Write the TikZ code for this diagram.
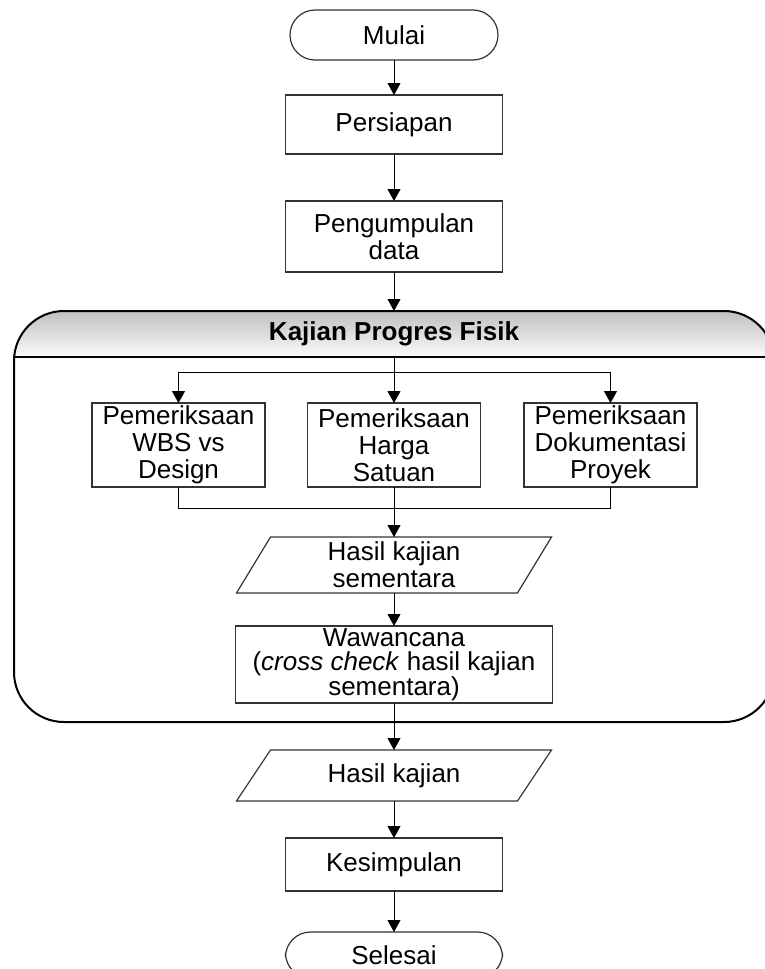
\documentclass[tikz,border=0pt]{standalone}
\usepackage{fontspec}
\setmainfont{Liberation Sans}
\usetikzlibrary{arrows.meta}

\tikzset{
  proc/.style={draw=black!80, line width=1.2pt, minimum width=173pt, minimum height=84pt, inner sep=0pt, outer sep=0pt, align=center},
  term/.style={draw=black!80, line width=1.2pt, rounded corners=25pt, minimum width=208pt, minimum height=50pt, inner sep=0pt, outer sep=0pt},
  dataio/.style={inner sep=0pt, outer sep=0pt, minimum width=281pt, align=center,
    append after command={\pgfextra{\draw [draw=black!80, line width=1.2pt] ([xshift=17pt]\tikzlastnode.north west) -- ([xshift=17pt]\tikzlastnode.north east) -- ([xshift=-17pt]\tikzlastnode.south east) -- ([xshift=-17pt]\tikzlastnode.south west) -- cycle;}}},
  arr/.style={-{Triangle[length=12pt,width=13pt]}, line width=1pt}
}

\begin{document}
\begin{tikzpicture}[x=1pt, y=-1pt, font=\fontsize{26}{27}\selectfont]
\useasboundingbox (0,0) rectangle (765,969);
\clip (0,0) rectangle (765,969);

% shaded header of the container
\begin{scope}
\clip [rounded corners=50pt] (14,311) rectangle (774,722);
\foreach \i in {0,...,45} {
  \pgfmathsetmacro\g{25-23*\i/45}
  \fill [black!\g] (14,{311+\i}) rectangle (774,{312.5+\i});
}
\end{scope}
\node [draw, line width=2pt, rounded corners=50pt, minimum width=760pt, minimum height=411pt, inner sep=0pt, outer sep=0pt] (kajian) at (394,516.5) {};
\node [minimum width=760pt, minimum height=46pt, inner sep=0pt, outer sep=0pt] (judul) at (394,334) {\textbf{Kajian Progres Fisik}};
\draw [line width=2pt] (judul.south west) -- (judul.south east);

\node [term] (mulai) at (394,35) {Mulai};
\node [proc, minimum width=217pt, minimum height=59pt] (persiapan) at (394,124.5) {Persiapan};
\node [proc, minimum width=217pt, minimum height=71pt] (pengumpulan) at (394,236.5) {Pengumpulan\\data};

\node [proc] (wbs) at (178.5,445) {Pemeriksaan\\WBS vs\\Design};
\node [proc] (harga) at (394,445) {Pemeriksaan\\Harga\\Satuan};
\node [proc] (doku) at (610.5,445) {Pemeriksaan\\Dokumentasi\\Proyek};

\node [dataio, minimum height=56pt] (hks) at (394,565) {Hasil kajian\\sementara};
\node [proc, minimum width=317pt, minimum height=77pt, font=\fontsize{26}{24.5}\selectfont] (wawancana) at (394,664.5) {Wawancana\\(\textit{cross check} hasil kajian\\sementara)};

\node [dataio, minimum height=51pt] (hk) at (394,775.5) {Hasil kajian};
\node [proc, minimum width=217pt, minimum height=53pt] (kesimpulan) at (394,864.5) {Kesimpulan};
\node [term, minimum width=217pt, minimum height=46pt] (selesai) at (394,955) {Selesai};

% connectors
\draw [arr] (mulai) -- (persiapan);
\draw [arr] (persiapan) -- (pengumpulan);
\draw [arr] (pengumpulan) -- (kajian.north);
\draw [arr] (judul.south) -- (harga);
\coordinate (cabang) at (394,372);
\draw [arr] (cabang) -| (wbs); \draw [arr] (cabang) -| (doku);
\coordinate (gabung) at (394,508);
\draw [line width=1pt] (wbs) |- (gabung); \draw [line width=1pt] (doku) |- (gabung);
\draw [arr] (harga) -- (hks);
\draw [arr] (hks) -- (wawancana);
\draw [arr] (wawancana) -- (hk);
\draw [arr] (hk) -- (kesimpulan);
\draw [arr] (kesimpulan) -- (selesai);

\end{tikzpicture}
\end{document}
